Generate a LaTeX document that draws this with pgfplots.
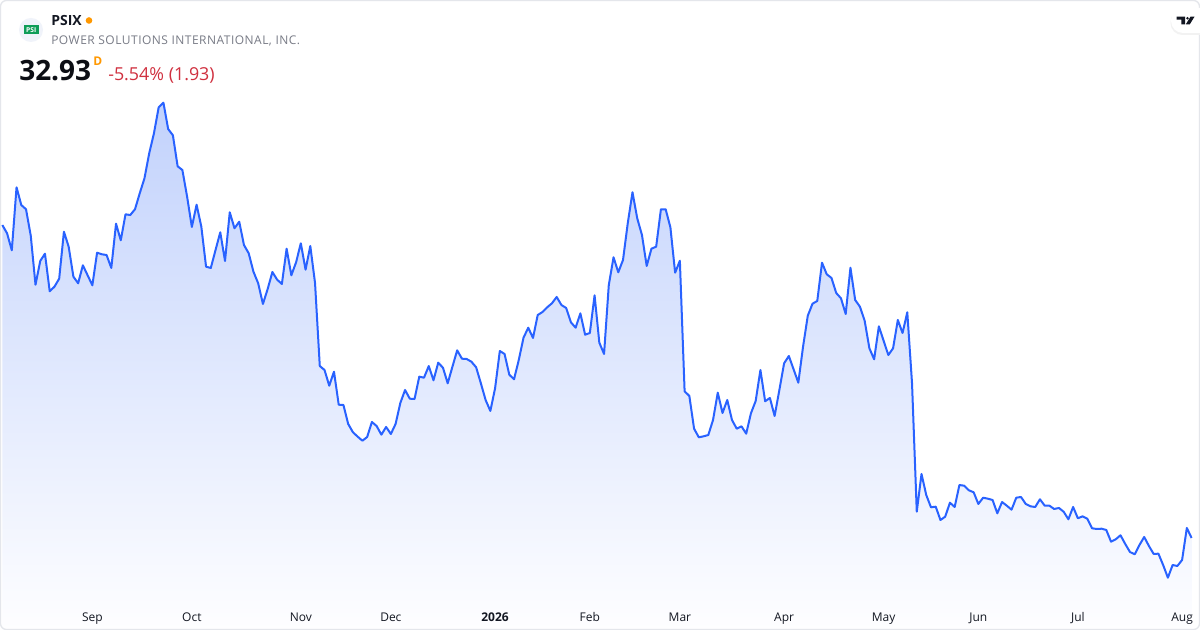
\documentclass[border=0pt]{standalone}
\usepackage{fontspec}
\setmainfont{Open Sans}
\usepackage{pgfplots}
\usepackage{pgfplotstable}
\pgfplotsset{compat=1.18}
\definecolor{tvblue}{HTML}{2962FF}
\definecolor{tvtop}{HTML}{C2D2FC}
\definecolor{tvbot}{HTML}{FEFEFF}
\definecolor{tvgray}{HTML}{787B86}
\definecolor{tvink}{HTML}{131722}
\definecolor{tvnum}{HTML}{0C0E14}
\definecolor{tvred}{HTML}{D0303F}
\definecolor{tvorange}{HTML}{FF9800}
\definecolor{tvframe}{HTML}{E4E6EB}
\definecolor{tvlogo}{HTML}{F0F3FA}
\definecolor{psigreen}{HTML}{0F9D58}
\pgfplotstableread[row sep=\\,header=false]{
93.33\\91.73\\88.45\\100.61\\97.19\\96.37\\91.27\\81.81\\86.39\\87.80\\
80.54\\81.43\\82.97\\92.04\\89.15\\83.36\\82.08\\85.56\\83.63\\81.70\\
87.99\\87.68\\87.54\\85.04\\93.59\\90.38\\95.40\\95.26\\96.37\\99.45\\
102.35\\107.17\\111.03\\116.05\\116.94\\111.86\\110.65\\104.66\\103.95\\98.80\\
92.95\\97.25\\93.01\\85.29\\85.04\\88.51\\91.93\\86.39\\95.79\\92.70\\
93.97\\89.47\\87.87\\84.32\\82.08\\78.09\\80.98\\84.26\\82.78\\81.95\\
88.76\\83.63\\86.14\\89.80\\84.71\\89.28\\82.14\\
66.12\\65.35\\62.32\\65.02\\58.65\\58.59\\54.93\\53.33\\52.48\\51.70\\
52.42\\55.31\\54.54\\52.86\\54.35\\53.00\\54.93\\58.98\\61.49\\59.81\\
59.75\\64.06\\63.86\\66.12\\63.36\\66.76\\65.79\\62.78\\65.99\\69.15\\
67.53\\67.47\\66.95\\65.87\\62.78\\59.56\\57.44\\61.82\\69.02\\68.44\\
64.44\\63.56\\67.28\\71.58\\73.51\\71.53\\75.96\\76.54\\77.45\\78.22\\
79.44\\77.89\\77.32\\74.56\\73.51\\76.29\\72.16\\72.49\\79.77\\70.62\\
68.44\\81.75\\87.10\\84.21\\86.58\\93.66\\99.65\\94.63\\91.40\\85.42\\
88.76\\89.15\\96.37\\96.37\\92.89\\84.13\\86.44\\61.24\\60.33\\54.02\\
52.36\\52.55\\52.80\\55.70\\60.97\\57.05\\59.56\\55.70\\54.02\\54.48\\
53.06\\56.99\\59.37\\65.35\\59.31\\59.95\\56.47\\61.49\\66.64\\68.05\\
65.49\\62.90\\69.85\\75.83\\78.15\\78.67\\86.06\\83.82\\83.11\\80.21\\
79.19\\76.16\\85.09\\78.86\\77.57\\74.86\\69.54\\67.42\\73.78\\71.00\\
68.24\\69.54\\75.00\\72.49\\76.49\\62.78\\38.00\\45.28\\41.22\\38.85\\
38.97\\36.40\\37.04\\39.74\\38.91\\43.15\\43.02\\42.13\\41.75\\39.49\\
40.70\\40.51\\40.26\\37.69\\39.87\\39.16\\38.39\\40.70\\40.84\\39.49\\
39.04\\38.91\\40.40\\39.16\\39.16\\38.52\\38.72\\38.00\\36.54\\38.91\\
36.73\\37.11\\36.65\\34.80\\34.66\\34.72\\34.47\\32.21\\32.68\\33.45\\
31.77\\30.22\\29.78\\31.57\\33.12\\31.38\\29.84\\29.90\\27.71\\25.26\\
27.71\\27.52\\28.68\\34.86\\32.93\\
}\pricetable
\begin{document}
\begin{tikzpicture}
\useasboundingbox (0,0) rectangle (900pt,472.5pt);
\fill[white] (0,0) rectangle (900pt,472.5pt);
\begin{axis}[
  at={(0,0)}, anchor=south west,
  scale only axis, width=900pt, height=472.5pt,
  xmin=-0.492, xmax=252.78, ymin=15.17, ymax=136.76,
  axis y line=none, axis x line*=bottom,
  x axis line style={draw=none},
  axis on top=true,
  xtick={19,40,63,82,104,124,143,165,186,206,227,249},
  xticklabels={Sep,Oct,Nov,Dec,\textbf{2026},Feb,Mar,Apr,May,Jun,Jul,Aug},
  major tick length=0pt,
  xticklabel style={font=\fontsize{9}{11}\selectfont, text=tvink, anchor=base, yshift=6.5pt},
  clip=true,
]
\addplot[draw=none, shading=axis, shading angle=0, top color=tvtop, bottom color=tvbot]
  table[x expr=\coordindex, y index=0] {\pricetable} \closedcycle;
\addplot[tvblue, line width=1.5pt, line join=round, no marks]
  table[x expr=\coordindex, y index=0] {\pricetable};
\end{axis}
\begin{scope}[x=0.75pt, y=-0.75pt, yshift=472.5pt]
  \draw[tvframe, line width=1pt, rounded corners=4.5pt] (0.5,0.5) rectangle (1199.5,629.5);
  % logo
  \fill[tvlogo] (31,30) circle (12);
  \fill[psigreen] (24,25.5) rectangle (38.5,34.5);
  \node[anchor=center, inner sep=0pt, text=white] at (31.2,30) {\fontsize{5}{6}\selectfont\bfseries PSI};
  % header text
  \node[anchor=base west, inner sep=0pt, text=tvink] at (51,26) {\fontsize{10.5}{12}\selectfont\bfseries PSIX};
  \fill[tvorange] (89,20.5) circle (3.3);
  \node[anchor=base west, inner sep=0pt, text=tvgray] at (51,45) {\fontsize{9}{11}\selectfont\addfontfeatures{LetterSpace=4}POWER SOLUTIONS INTERNATIONAL, INC.};
  \node[anchor=base west, inner sep=0pt, text=tvnum] at (19,81) {\fontsize{21}{25}\selectfont\bfseries 32.93};
  \node[anchor=base west, inner sep=0pt, text=tvorange] at (93,65.7) {\fontsize{9}{10}\selectfont\bfseries D};
  \node[anchor=base west, inner sep=0pt, text=tvred] at (108,81) {\fontsize{13.4}{16}\selectfont -5.54\% (1.93)};
  % brand badge
  \fill[black!5] (1205,10) [rounded corners=9pt] -- (1170.5,10) -- (1170.5,35) [sharp corners] -- (1205,35) -- cycle;
  \fill[white] (1205,8) [rounded corners=9pt] -- (1171,8) -- (1171,33) [sharp corners] -- (1205,33) -- cycle;
  \fill[tvink] (1176.7,16.7) -- (1185,16.7) -- (1185,24.3) -- (1181.3,24.3) -- (1181.3,19.6) -- (1176.7,19.6) -- cycle;
  \fill[tvink] (1187.5,18.2) circle (1.4);
  \fill[tvink] (1190.5,16.7) -- (1194.5,16.7) -- (1189.8,24.3) -- (1185.8,24.3) -- cycle;
\end{scope}
\end{tikzpicture}
\end{document}
